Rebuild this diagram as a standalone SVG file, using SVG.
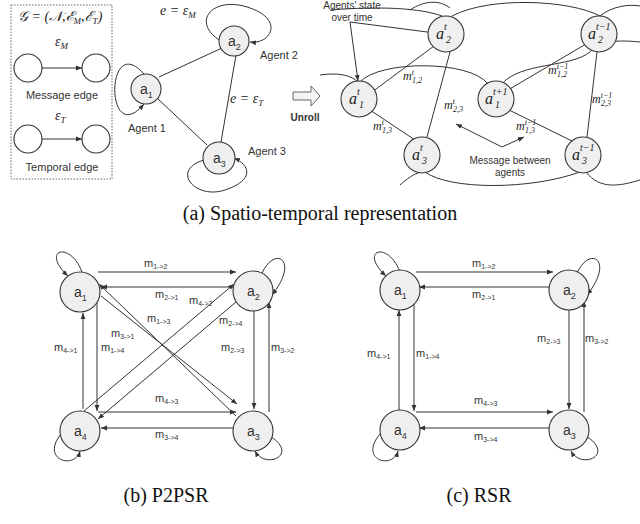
<svg xmlns="http://www.w3.org/2000/svg" width="640" height="524" viewBox="0 0 640 524">
<style>
.n{fill:#efefef;stroke:#333;stroke-width:1.1}
.w{fill:#fff;stroke:#333;stroke-width:1.1}
.e{fill:none;stroke:#333;stroke-width:1}
.s{font-family:"Liberation Sans",Arial,sans-serif;fill:#333}
.i{font-family:"Liberation Serif","Times New Roman",serif;font-style:italic;fill:#222}
.c{font-family:"Liberation Serif","Times New Roman",serif;font-size:20px;fill:#111;text-anchor:middle}
.lbl{font-family:"Liberation Sans",Arial,sans-serif;font-size:11px;fill:#333}
.sub{font-size:7px}
</style>
<defs>
<marker id="ar" viewBox="0 0 10 10" refX="10" refY="5" markerWidth="6" markerHeight="6" orient="auto-start-reverse"><path d="M0,1 L10,5 L0,9 z" fill="#333"/></marker>
</defs>

<!-- (a) legend -->
<g id="legend">
<rect x="11" y="5" width="101" height="174" fill="none" stroke="#666" stroke-dasharray="1.5,1.5"/>
<text x="18" y="21" class="i" font-size="14">𝒢 = (𝒩,ℰ<tspan font-size="9" dy="3">M</tspan><tspan dy="-3">,ℰ</tspan><tspan font-size="9" dy="3">T</tspan><tspan dy="-3">)</tspan></text>
<text x="55" y="46" class="i" font-size="14">ε<tspan font-size="9" dy="3">M</tspan></text>
<circle cx="28" cy="68" r="14" class="w"/><circle cx="96" cy="68" r="14" class="w"/>
<line x1="42" y1="68" x2="82" y2="68" class="e" marker-end="url(#ar)"/>
<text x="62" y="99" class="s" font-size="11" text-anchor="middle">Message edge</text>
<text x="55" y="120" class="i" font-size="14">ε<tspan font-size="9" dy="3">T</tspan></text>
<circle cx="28" cy="139" r="14" class="w"/><circle cx="96" cy="139" r="14" class="w"/>
<line x1="42" y1="139" x2="82" y2="139" class="e" marker-end="url(#ar)"/>
<text x="62" y="171" class="s" font-size="11" text-anchor="middle">Temporal edge</text>
</g>

<!-- (a) graph -->
<g id="a-graph">
<g class="e">
<line x1="159" y1="77" x2="222" y2="48"/>
<line x1="158" y1="99" x2="207" y2="145"/>
<line x1="236" y1="55" x2="221" y2="142"/>
<path d="M144 74 C105 30,105 150,144 104" marker-end="url(#ar)"/>
<path d="M219 40 C190 20,215 -5,250 8 C285 20,270 45,250 42" marker-end="url(#ar)"/>
<path d="M204 160 C170 170,195 200,225 190 C255 180,250 165,234 158" marker-end="url(#ar)"/>
</g>
<g id="a1"><circle cx="146" cy="89" r="15" class="n"/><text x="140" y="94" class="s" font-size="14">a<tspan font-size="9" dy="4">1</tspan></text></g>
<g id="a2"><circle cx="234" cy="41" r="15" class="n"/><text x="228" y="46" class="s" font-size="14">a<tspan font-size="9" dy="4">2</tspan></text></g>
<g id="a3"><circle cx="219" cy="158" r="16" class="n"/><text x="213" y="163" class="s" font-size="14">a<tspan font-size="9" dy="4">3</tspan></text></g>
<text x="160" y="15" class="i" font-size="14">e = ε<tspan font-size="9" dy="3">M</tspan></text>
<text x="260" y="59" class="s" font-size="11">Agent 2</text>
<text x="230" y="103" class="i" font-size="14">e = ε<tspan font-size="9" dy="3">T</tspan></text>
<text x="128" y="132" class="s" font-size="11">Agent 1</text>
<text x="248" y="155" class="s" font-size="11">Agent 3</text>
<path d="M293 92 H311 V86 L320 96 L311 106 V100 H293 Z" fill="#f4f4f4" stroke="#666"/>
<text x="305" y="121" class="s" font-size="10" font-weight="bold" text-anchor="middle">Unroll</text>
</g>

<!-- (a) unrolled -->
<g id="unrolled">
<g class="e">
<path d="M330 10 C380 6,420 8,442 16"/>
<path d="M452 16 C490 -4,570 0,600 16 C612 6,630 4,640 6"/>
<path d="M410 10 C425 0,440 0,450 8"/>
<path d="M320 75 C340 72,352 76,358 82"/>
<path d="M360 82 C380 60,470 60,488 84"/>
<path d="M502 84 C520 62,570 68,590 52 C600 40,620 40,640 42"/>
<path d="M400 185 C410 176,418 172,422 172"/>
<path d="M425 172 C450 190,530 190,580 172"/>
<path d="M586 172 C600 190,620 186,640 180"/>
<line x1="372" y1="92" x2="434" y2="46"/>
<line x1="370" y1="110" x2="415" y2="140"/>
<line x1="450" y1="52" x2="427" y2="137"/>
<line x1="508" y1="90" x2="586" y2="44"/>
<line x1="507" y1="109" x2="572" y2="141"/>
<line x1="597" y1="52" x2="587" y2="137"/>
<line x1="350" y1="22" x2="435" y2="33" marker-end="url(#ar)"/>
<line x1="350" y1="22" x2="358" y2="81" marker-end="url(#ar)"/>
<line x1="502" y1="147" x2="456" y2="124" marker-end="url(#ar)"/>
<line x1="502" y1="147" x2="524" y2="137" marker-end="url(#ar)"/>
</g>
<g id="a2t"><circle cx="446" cy="34" r="18" class="n"/><text x="436" y="39" class="i" font-size="16">a<tspan font-size="10" dy="-9">t</tspan><tspan font-size="10" x="446" dy="13">2</tspan></text></g>
<g id="a1t"><circle cx="359" cy="99" r="18" class="n"/><text x="349" y="104" class="i" font-size="16">a<tspan font-size="10" dy="-9">t</tspan><tspan font-size="10" x="359" dy="13">1</tspan></text></g>
<g id="a1t1"><circle cx="496" cy="99" r="18" class="n"/><text x="485" y="104" class="i" font-size="16">a<tspan font-size="10" dy="-9">t+1</tspan><tspan font-size="10" x="495" dy="13">1</tspan></text></g>
<g id="a3t"><circle cx="422" cy="155" r="18" class="n"/><text x="412" y="160" class="i" font-size="16">a<tspan font-size="10" dy="-9">t</tspan><tspan font-size="10" x="422" dy="13">3</tspan></text></g>
<g id="a3t1"><circle cx="583" cy="155" r="18" class="n"/><text x="572" y="160" class="i" font-size="16">a<tspan font-size="10" dy="-9">t−1</tspan><tspan font-size="10" x="582" dy="13">3</tspan></text></g>
<g id="a2t1"><circle cx="599" cy="34" r="18" class="n"/><text x="588" y="39" class="i" font-size="16">a<tspan font-size="10" dy="-9">t−1</tspan><tspan font-size="10" x="598" dy="13">2</tspan></text></g>
<text x="403" y="80" class="i" font-size="12">m<tspan font-size="8" dy="-5">t</tspan><tspan font-size="8" x="412" dy="8">1,2</tspan></text>
<text x="444" y="109" class="i" font-size="12">m<tspan font-size="8" dy="-5">t</tspan><tspan font-size="8" x="453" dy="8">2,3</tspan></text>
<text x="373" y="130" class="i" font-size="12">m<tspan font-size="8" dy="-5">t</tspan><tspan font-size="8" x="382" dy="8">1,3</tspan></text>
<text x="548" y="74" class="i" font-size="12">m<tspan font-size="8" dy="-5">t−1</tspan><tspan font-size="8" x="557" dy="8">1,2</tspan></text>
<text x="592" y="103" class="i" font-size="12">m<tspan font-size="8" dy="-5">t−1</tspan><tspan font-size="8" x="601" dy="8">2,3</tspan></text>
<text x="516" y="130" class="i" font-size="12">m<tspan font-size="8" dy="-5">t−1</tspan><tspan font-size="8" x="525" dy="8">1,3</tspan></text>
<text x="352" y="9" class="s" font-size="10" text-anchor="middle">Agents' state</text>
<text x="352" y="21" class="s" font-size="10" text-anchor="middle">over time</text>
<text x="510" y="164" class="s" font-size="10" text-anchor="middle">Message between</text>
<text x="510" y="176" class="s" font-size="10" text-anchor="middle">agents</text>
</g>
<text x="320" y="220" class="c">(a) Spatio-temporal representation</text>

<!-- (b) P2PSR -->
<g id="p2psr-edges" class="e">
<line x1="98" y1="272" x2="236" y2="272" marker-end="url(#ar)"/>
<line x1="234" y1="287" x2="101" y2="287" marker-end="url(#ar)"/>
<line x1="98" y1="412" x2="236" y2="412" marker-end="url(#ar)"/>
<line x1="234" y1="428" x2="101" y2="428" marker-end="url(#ar)"/>
<line x1="83" y1="409" x2="83" y2="313" marker-end="url(#ar)"/>
<line x1="97" y1="303" x2="97" y2="411" marker-end="url(#ar)"/>
<line x1="254" y1="311" x2="254" y2="409" marker-end="url(#ar)"/>
<line x1="269" y1="412" x2="269" y2="302" marker-end="url(#ar)"/>
<line x1="101" y1="296" x2="237" y2="404" marker-end="url(#ar)"/>
<line x1="236" y1="416" x2="99" y2="284" marker-end="url(#ar)"/>
<line x1="84" y1="411" x2="234" y2="284" marker-end="url(#ar)"/>
<line x1="236" y1="302" x2="98" y2="419" marker-end="url(#ar)"/>
<path d="M68 276 C40 250,70 240,82 272" marker-start="url(#ar)"/>
<path d="M262 273 C275 245,300 260,272 295" marker-end="url(#ar)"/>
<path d="M61 434 C40 460,75 470,80 451" marker-end="url(#ar)"/>
<path d="M255 451 C265 470,300 455,270 436" marker-start="url(#ar)"/>
</g>
<g id="p2psr-a1"><circle cx="80" cy="292" r="20" class="n"/><text x="74" y="297" class="s" font-size="14">a<tspan font-size="9" dy="4">1</tspan></text></g>
<g id="p2psr-a2"><circle cx="253" cy="291" r="20" class="n"/><text x="247" y="296" class="s" font-size="14">a<tspan font-size="9" dy="4">2</tspan></text></g>
<g id="p2psr-a3"><circle cx="253" cy="431" r="20" class="n"/><text x="247" y="436" class="s" font-size="14">a<tspan font-size="9" dy="4">3</tspan></text></g>
<g id="p2psr-a4"><circle cx="80" cy="431" r="20" class="n"/><text x="74" y="436" class="s" font-size="14">a<tspan font-size="9" dy="4">4</tspan></text></g>
<g class="lbl">
<text x="144" y="267">m<tspan class="sub" dy="2">1-&gt;2</tspan></text>
<text x="155" y="298">m<tspan class="sub" dy="2">2-&gt;1</tspan></text>
<text x="189" y="304">m<tspan class="sub" dy="2">4-&gt;2</tspan></text>
<text x="147" y="322">m<tspan class="sub" dy="2">1-&gt;3</tspan></text>
<text x="219" y="324">m<tspan class="sub" dy="2">2-&gt;4</tspan></text>
<text x="111" y="337">m<tspan class="sub" dy="2">3-&gt;1</tspan></text>
<text x="54" y="351">m<tspan class="sub" dy="2">4-&gt;1</tspan></text>
<text x="101" y="351">m<tspan class="sub" dy="2">1-&gt;4</tspan></text>
<text x="221" y="351">m<tspan class="sub" dy="2">2-&gt;3</tspan></text>
<text x="271" y="351">m<tspan class="sub" dy="2">3-&gt;2</tspan></text>
<text x="155" y="402">m<tspan class="sub" dy="2">4-&gt;3</tspan></text>
<text x="155" y="438">m<tspan class="sub" dy="2">3-&gt;4</tspan></text>
</g>
<text x="166" y="502" class="c">(b) P2PSR</text>

<!-- (c) RSR -->
<g id="rsr-edges" class="e">
<line x1="416" y1="272" x2="553" y2="272" marker-end="url(#ar)"/>
<line x1="551" y1="287" x2="419" y2="287" marker-end="url(#ar)"/>
<line x1="416" y1="412" x2="553" y2="412" marker-end="url(#ar)"/>
<line x1="551" y1="428" x2="419" y2="428" marker-end="url(#ar)"/>
<line x1="399" y1="410" x2="399" y2="310" marker-end="url(#ar)"/>
<line x1="414" y1="302" x2="414" y2="411" marker-end="url(#ar)"/>
<line x1="569" y1="310" x2="569" y2="409" marker-end="url(#ar)"/>
<line x1="584" y1="412" x2="584" y2="301" marker-end="url(#ar)"/>
<path d="M386 276 C358 250,388 240,400 272" marker-start="url(#ar)"/>
<path d="M577 273 C590 245,615 260,587 295" marker-end="url(#ar)"/>
<path d="M380 434 C358 460,393 470,398 451" marker-end="url(#ar)"/>
<path d="M571 451 C581 470,616 455,586 436" marker-start="url(#ar)"/>
</g>
<g id="rsr-a1"><circle cx="400" cy="290" r="20" class="n"/><text x="394" y="295" class="s" font-size="14">a<tspan font-size="9" dy="4">1</tspan></text></g>
<g id="rsr-a2"><circle cx="569" cy="290" r="20" class="n"/><text x="563" y="295" class="s" font-size="14">a<tspan font-size="9" dy="4">2</tspan></text></g>
<g id="rsr-a3"><circle cx="569" cy="430" r="20" class="n"/><text x="563" y="435" class="s" font-size="14">a<tspan font-size="9" dy="4">3</tspan></text></g>
<g id="rsr-a4"><circle cx="400" cy="430" r="20" class="n"/><text x="394" y="435" class="s" font-size="14">a<tspan font-size="9" dy="4">4</tspan></text></g>
<g class="lbl">
<text x="472" y="267">m<tspan class="sub" dy="2">1-&gt;2</tspan></text>
<text x="472" y="298">m<tspan class="sub" dy="2">2-&gt;1</tspan></text>
<text x="367" y="357">m<tspan class="sub" dy="2">4-&gt;1</tspan></text>
<text x="416" y="357">m<tspan class="sub" dy="2">1-&gt;4</tspan></text>
<text x="537" y="342">m<tspan class="sub" dy="2">2-&gt;3</tspan></text>
<text x="585" y="342">m<tspan class="sub" dy="2">3-&gt;2</tspan></text>
<text x="474" y="404">m<tspan class="sub" dy="2">4-&gt;3</tspan></text>
<text x="474" y="440">m<tspan class="sub" dy="2">3-&gt;4</tspan></text>
</g>
<text x="479" y="502" class="c">(c) RSR</text>
</svg>
